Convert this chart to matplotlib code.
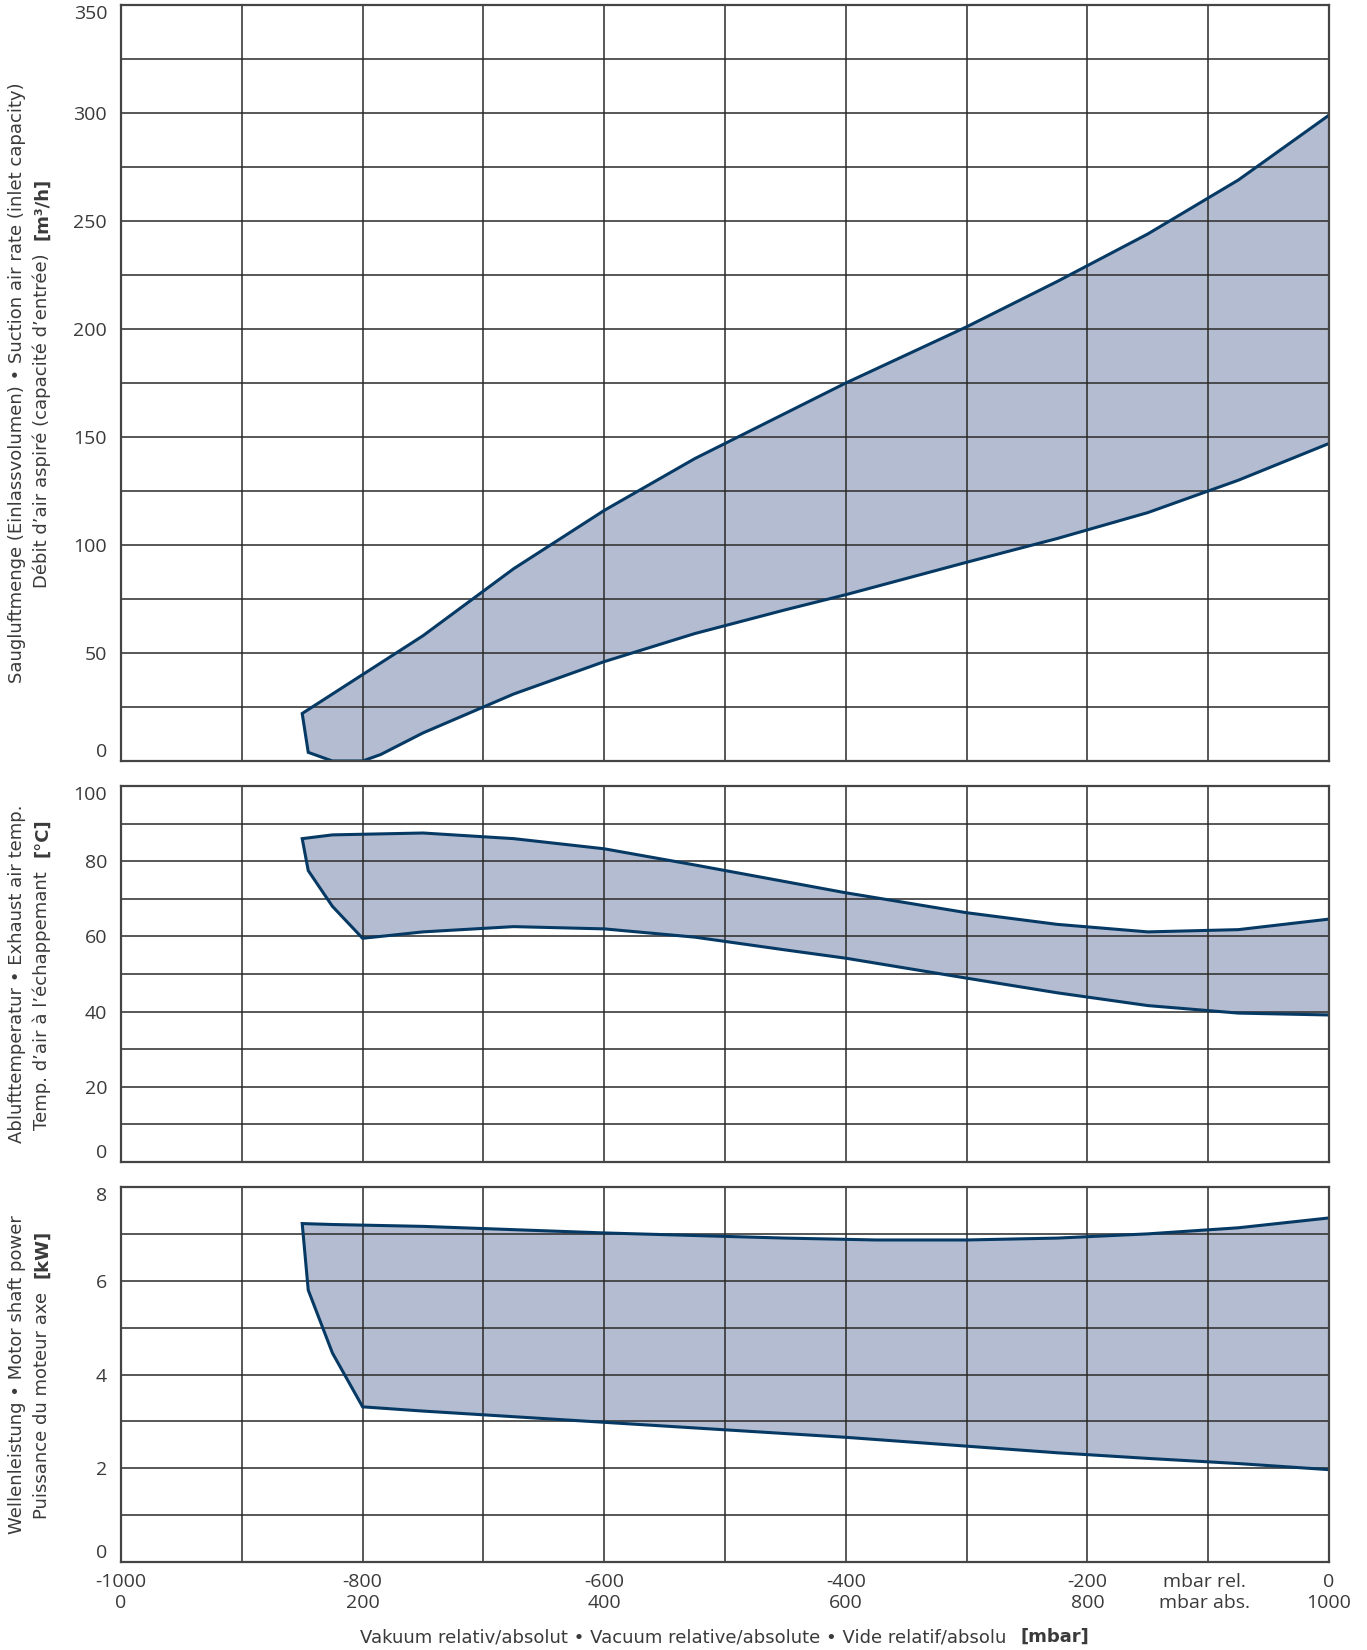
import numpy as np
import matplotlib
matplotlib.use('Agg')
import matplotlib.pyplot as plt

# Daten
x_ticks = [-1000, -800, -600, -400, -200, 0]
x_rel = ['-1000', '-800', '-600', '-400', '-200', '0']
x_abs = ['0', '200', '400', '600', '800', '1000']

flow_up_x = [-850, -750, -675, -600, -525, -450, -400, -300, -225, -150, -75, 0]
flow_up_y = [22, 58, 89, 116, 140, 161, 175, 201, 222, 244, 269, 299]
flow_lo_x = [-850, -845, -825, -800, -785, -750, -675, -600, -525, -450, -400, -300, -225, -150, -75, 0]
flow_lo_y = [22, 4, 0, 0, 3, 13, 31, 46, 59, 70, 77, 92, 103, 115, 130, 147]

temp_up_x = [-850, -825, -750, -675, -600, -525, -400, -300, -225, -150, -75, 0]
temp_up_y = [86, 87, 87.5, 86, 83.3, 79, 71.6, 66.3, 63.2, 61.2, 61.8, 64.6]
temp_lo_x = [-850, -845, -825, -800, -785, -750, -675, -600, -525, -450, -400, -300, -225, -150, -75, 0]
temp_lo_y = [86, 77.5, 68, 59.5, 60, 61.2, 62.6, 62, 59.8, 56.4, 54.2, 48.9, 45, 41.6, 39.6, 39.1]

pow_up_x = [-850, -825, -750, -600, -450, -375, -300, -225, -150, -75, 0]
pow_up_y = [7.22, 7.2, 7.16, 7.02, 6.91, 6.87, 6.87, 6.91, 7.0, 7.13, 7.34]
pow_lo_x = [-850, -845, -825, -800, -750, -600, -400, -225, -150, -75, 0]
pow_lo_y = [7.22, 5.8, 4.46, 3.31, 3.22, 2.98, 2.66, 2.33, 2.21, 2.1, 1.97]

FILL = '#b3bcd0'
LINE = '#063a64'
GRID = '#2a2a2a'
TXT = '#3a3a3a'
NARROW = ['Liberation Sans Narrow', 'DejaVu Sans']

fig = plt.figure(figsize=(13.67, 16.5), dpi=100)
W, H = 1367, 1650


def frac(top, bot):
    return [121 / W, 1 - bot / H, (1329 - 121) / W, (bot - top) / H]


def panel(rect, ymax, ystep, ux, uy, lx, ly, xlabels=False):
    ax = fig.add_axes(rect)
    ax.set_xlim(-1000, 0)
    ax.set_ylim(0, ymax)
    ax.set_axisbelow(False)
    ax.fill(np.r_[ux, lx[::-1]], np.r_[uy, ly[::-1]], color=FILL, lw=0, zorder=1)
    ax.plot(np.r_[ux[::-1], lx[1:]], np.r_[uy[::-1], ly[1:]], color=LINE, lw=2.2,
            solid_joinstyle='miter', zorder=3)
    ax.xaxis.remove_overlapping_locs = False
    ax.set_xticks(np.arange(-1000, 1, 100), minor=True)
    ax.set_yticks(np.arange(0, ymax + 0.01, ystep))
    ax.set_yticks(np.arange(ystep / 2, ymax, ystep), minor=True)
    ax.xaxis.grid(True, which='minor', color=GRID, lw=1.1)
    ax.yaxis.grid(True, which='both', color=GRID, lw=1.1)
    ax.tick_params(which='both', length=0)
    ax.tick_params(axis='y', pad=10, labelsize=14, labelcolor=TXT)
    for lbl in ax.get_yticklabels():
        lbl.set_family('Open Sans')
    ylbls = ax.get_yticklabels()
    ylbls[-1].set_va('top')
    ylbls[0].set_va('bottom')
    if xlabels:
        ax.set_xticks(x_ticks + [-103])
        ax.set_xticklabels([r + '\n' + a for r, a in zip(x_rel, x_abs)] + ['mbar rel.\nmbar abs.'],
                           family='Open Sans', fontsize=14, color=TXT, linespacing=1.2)
        ax.tick_params(axis='x', pad=8)
    else:
        ax.set_xticks([])
    for s in ax.spines.values():
        s.set_color('#444444')
        s.set_linewidth(1.6)
        s.set_zorder(4)
    return ax


ax1 = panel(frac(5, 761), 350, 50, flow_up_x, flow_up_y, flow_lo_x, flow_lo_y)
ax2 = panel(frac(786, 1162), 100, 20, temp_up_x, temp_up_y, temp_lo_x, temp_lo_y)
ax3 = panel(frac(1187, 1562), 8, 2, pow_up_x, pow_up_y, pow_lo_x, pow_lo_y, xlabels=True)

renderer = fig.canvas.get_renderer()


def two_part(x, y, normal, bold, size, vertical=True, gap=14):
    rot = 90 if vertical else 0
    t1 = fig.text(x, y, normal, rotation=rot, ha='center', va='center',
                  family=NARROW, fontsize=size, color=TXT)
    t2 = fig.text(x, y, bold, rotation=rot, ha='center', va='center',
                  family=NARROW, fontsize=size, color=TXT, weight='bold')
    e1 = t1.get_window_extent(renderer)
    e2 = t2.get_window_extent(renderer)
    if vertical:
        l1, l2, tot = e1.height, e2.height, e1.height + e2.height + gap
        start = y * H - tot / 2
        t1.set_y((start + l1 / 2) / H)
        t2.set_y((start + l1 + gap + l2 / 2) / H)
    else:
        l1, l2, tot = e1.width, e2.width, e1.width + e2.width + gap
        start = x * W - tot / 2
        t1.set_x((start + l1 / 2) / W)
        t2.set_x((start + l1 + gap + l2 / 2) / W)


def ylab(top, bot, line1, line2, unit):
    yc = 1 - (top + bot) / 2 / H
    fig.text(17 / W, yc, line1, rotation=90, ha='center', va='center',
             family=NARROW, fontsize=13, color=TXT)
    two_part(42 / W, yc, line2, unit, 13)


ylab(5, 761, 'Saugluftmenge (Einlassvolumen) \u2022 Suction air rate (inlet capacity)',
     'D\u00e9bit d\u2019air aspir\u00e9 (capacit\u00e9 d\u2019entr\u00e9e)', '[m\u00b3/h]')
ylab(786, 1162, 'Ablufttemperatur \u2022 Exhaust air temp.',
     'Temp. d\u2019air \u00e0 l\u2019\u00e9chappemant', '[\u00b0C]')
ylab(1187, 1562, 'Wellenleistung \u2022 Motor shaft power',
     'Puissance du moteur axe', '[kW]')

two_part(725 / W, 1 - 1637 / H,
         'Vakuum relativ/absolut \u2022 Vacuum relative/absolute \u2022 Vide relatif/absolu',
         '[mbar]', 13, vertical=False)

fig.savefig('out.png', dpi=100)
